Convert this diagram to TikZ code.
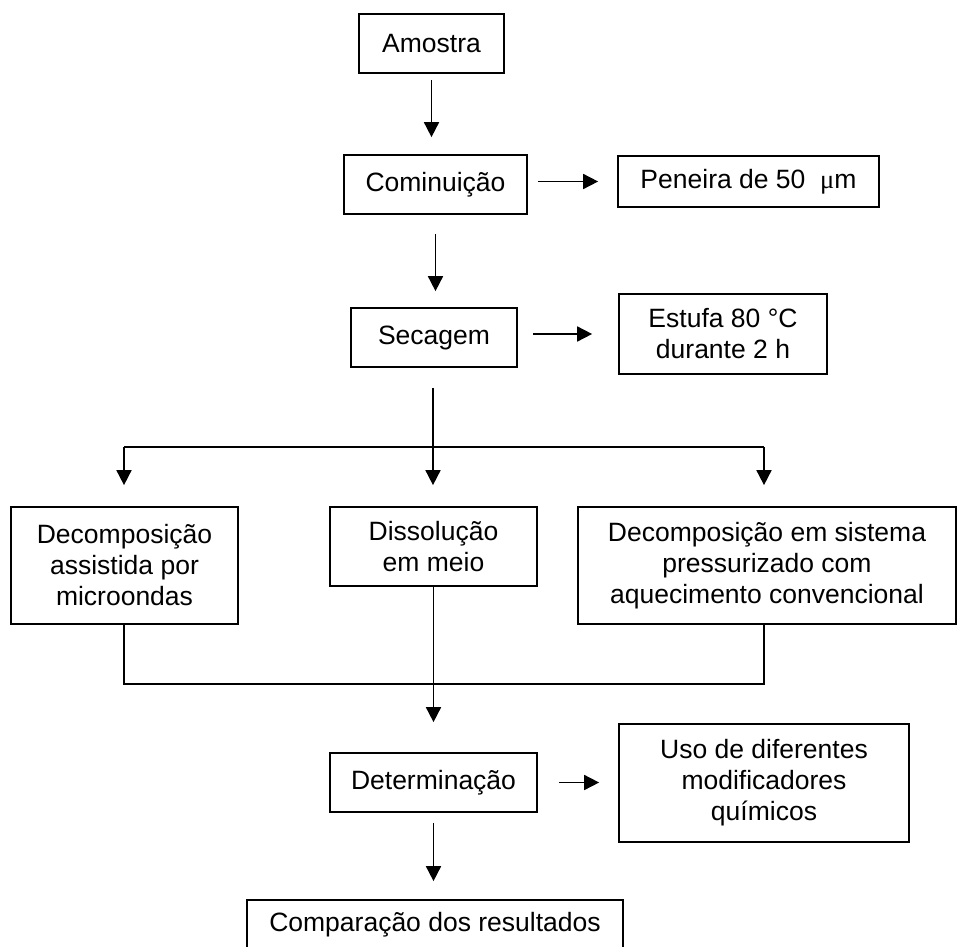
\documentclass[tikz,border=0pt]{standalone}
\usepackage{fontspec}
\setmainfont{Liberation Sans}
\newfontfamily\serifmu{Liberation Serif}
\usetikzlibrary{arrows.meta}
\begin{document}
\begin{tikzpicture}[x=1pt,y=-1pt,
  box/.style={draw, line width=1.7pt, inner sep=0pt, align=center,
    font=\fontsize{26.5}{31}\selectfont},
  conn/.style={line width=1.7pt},
  arr/.style={conn, -{Triangle[length=15pt,width=15pt]}}]
\useasboundingbox (0,0) rectangle (958,947);
% boxes
\node[box, minimum width=145pt, minimum height=59pt] (amostra) at (431.5,43.5) {Amostra};
\node[box, minimum width=183pt, minimum height=59pt] (comin) at (435.5,184.5) {Cominuição};
\node[box, minimum width=261pt, minimum height=51pt] (peneira) at (748.5,181.5) {Peneira de 50\ \ {\serifmu μ}m};
\node[box, minimum width=166pt, minimum height=59pt] (secagem) at (434,337.5) {Secagem};
\node[box, minimum width=208pt, minimum height=80pt] (estufa) at (723,334) {Estufa 80 °C\\durante 2 h};
\node[box, minimum width=227pt, minimum height=117pt] (dma) at (124.5,565.5) {Decomposição\\assistida por\\microondas};
\node[box, minimum width=207pt, minimum height=79pt] (diss) at (433.5,546.5) {Dissolução\\em meio};
\node[box, minimum width=378pt, minimum height=117pt] (dsp) at (767,565.5) {Decomposição em sistema\\pressurizado com\\aquecimento convencional};
\node[box, minimum width=207pt, minimum height=59pt] (det) at (433.5,782.5) {Determinação};
\node[box, minimum width=290pt, minimum height=118pt] (uso) at (764,783) {Uso de diferentes\\modificadores\\químicos};
\node[box, minimum width=376pt, minimum height=50pt] (comp) at (435,925) {Comparação dos resultados};
% coordinates
\coordinate (split) at (433,447);
\coordinate (sl) at (124,447);
\coordinate (sr) at (764,447);
\coordinate (ml) at (124,684);
\coordinate (mr) at (764,684);
% connectors
\draw[arr, shorten <=6pt, shorten >=17pt] (amostra.south) -- (amostra.south |- comin.north);
\draw[arr, shorten <=10pt, shorten >=19pt] (comin.east |- peneira.west) -- (peneira.west);
\draw[arr, shorten <=19pt, shorten >=16pt] (comin.south) -- (comin.south |- secagem.north);
\draw[arr, shorten <=15pt, shorten >=26pt] (secagem.east |- estufa.west) -- (estufa.west);
\draw[conn, shorten <=20pt] (secagem.south -| split) -- (split);
\draw[conn] (sl) -- (sr);
\draw[arr, shorten >=21pt] (sl) -- (sl |- dma.north);
\draw[arr, shorten >=21pt] (split) -- (split |- diss.north);
\draw[arr, shorten >=21pt] (sr) -- (sr |- dsp.north);
\draw[conn] (ml |- dma.south) -- (ml) -- (mr) -- (mr |- dsp.south);
\draw[arr, shorten >=30pt] (diss.south) -- (diss.south |- det.north);
\draw[arr, shorten <=21pt, shorten >=19pt] (det.east) -- (det.east -| uso.west);
\draw[arr, shorten <=10pt, shorten >=18pt] (det.south) -- (det.south |- comp.north);
\end{tikzpicture}
\end{document}
